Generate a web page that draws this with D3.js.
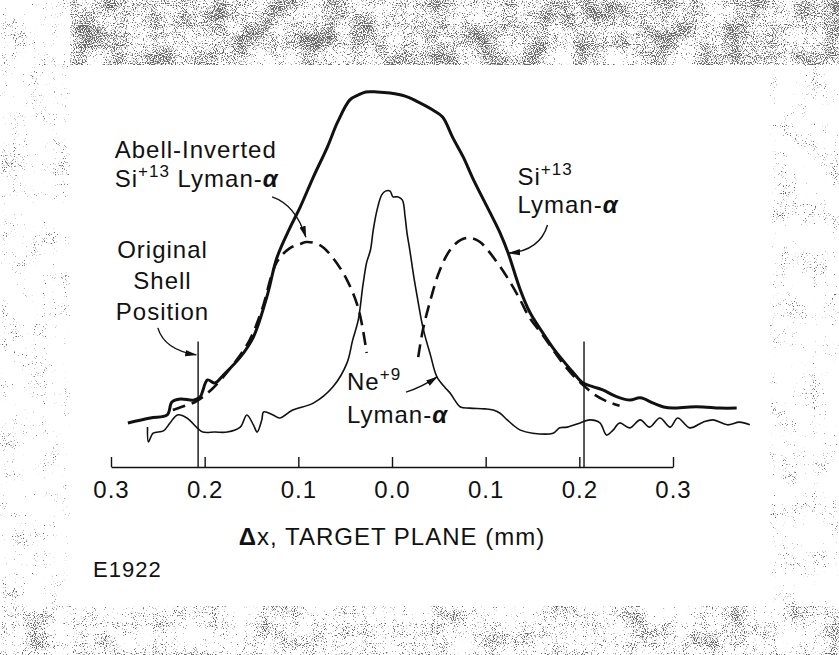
<!DOCTYPE html>
<html>
<head>
<meta charset="utf-8">
<script src="https://cdn.jsdelivr.net/npm/d3@7"></script>
<style>
  body { margin: 0; background: #fff; }
  svg text { font-family: "Liberation Sans", Arial, sans-serif; fill: #111; letter-spacing: 1px; }
</style>
</head>
<body>
<div id="chart"></div>
<script>
// x in mm along the target plane, y in arbitrary intensity units (0-100)
var tickValues = [-0.3, -0.2, -0.1, 0.0, 0.1, 0.2, 0.3];
var tickLabels = ["0.3", "0.2", "0.1", "0.0", "0.1", "0.2", "0.3"];
var shellPos = [-0.207, 0.205];
var shellTop = 33;

// Si+13 Lyman-alpha (thick)
var siX = [-0.282, -0.258, -0.240, -0.235, -0.226, -0.212, -0.205, -0.197, -0.189, -0.180, -0.162, -0.148, -0.133, -0.123, -0.109, -0.098, -0.084, -0.069, -0.058, -0.045, -0.036, -0.028, -0.016, -0.002, 0.014, 0.026, 0.044, 0.054, 0.065, 0.076, 0.086, 0.105, 0.115, 0.124, 0.137, 0.147, 0.161, 0.172, 0.182, 0.193, 0.204, 0.215, 0.225, 0.238, 0.254, 0.265, 0.279, 0.290, 0.300, 0.318, 0.332, 0.350, 0.368];
var siY = [11.6, 12.9, 13.7, 17.1, 17.9, 17.6, 18.4, 22.9, 22.1, 24.2, 28.9, 34.2, 45.3, 55.0, 62.9, 68.4, 76.3, 84.2, 90.8, 96.6, 97.9, 98.7, 98.7, 98.4, 97.6, 96.3, 93.9, 92.1, 86.6, 81.6, 76.1, 66.8, 61.8, 56.3, 46.6, 40.8, 35.3, 31.3, 28.2, 25.0, 22.1, 21.1, 20.3, 18.7, 17.6, 18.2, 16.8, 15.8, 15.5, 15.8, 15.8, 15.5, 15.5];

// Abell-inverted Si+13 Lyman-alpha (dashed), two lobes
var abellLeftX = [-0.234, -0.221, -0.208, -0.191, -0.170, -0.152, -0.139, -0.123, -0.109, -0.098, -0.091, -0.077, -0.063, -0.048, -0.037, -0.032, -0.027];
var abellLeftY = [15.0, 16.1, 17.4, 20.8, 26.8, 33.4, 41.3, 53.9, 57.6, 58.7, 59.2, 58.4, 55.0, 49.2, 42.6, 37.4, 30.0];
var abellRightX = [0.028, 0.033, 0.041, 0.051, 0.062, 0.073, 0.083, 0.094, 0.112, 0.126, 0.137, 0.147, 0.161, 0.172, 0.182, 0.193, 0.204, 0.217, 0.231, 0.243];
var abellRightY = [28.9, 36.1, 43.9, 51.8, 57.1, 59.7, 60.3, 59.2, 53.9, 48.7, 43.9, 39.2, 34.7, 30.8, 27.4, 24.2, 21.6, 18.9, 17.1, 16.1];

// Ne+9 Lyman-alpha (thin)
var neX = [-0.261, -0.260, -0.255, -0.244, -0.237, -0.229, -0.219, -0.208, -0.202, -0.189, -0.176, -0.162, -0.155, -0.148, -0.144, -0.139, -0.137, -0.127, -0.120, -0.106, -0.084, -0.063, -0.048, -0.042, -0.036, -0.031, -0.027, -0.023, -0.020, -0.016, -0.011, -0.007, -0.002, 0.001, 0.006, 0.011, 0.014, 0.016, 0.019, 0.023, 0.027, 0.032, 0.035, 0.041, 0.048, 0.057, 0.062, 0.067, 0.073, 0.083, 0.099, 0.108, 0.115, 0.123, 0.129, 0.137, 0.150, 0.172, 0.179, 0.187, 0.201, 0.211, 0.222, 0.229, 0.236, 0.243, 0.254, 0.265, 0.275, 0.286, 0.297, 0.305, 0.318, 0.332, 0.343, 0.358, 0.371, 0.382];
var neY = [10.5, 6.6, 8.9, 9.5, 11.6, 13.7, 12.9, 10.3, 9.2, 9.2, 9.2, 10.5, 13.7, 11.1, 9.2, 12.4, 14.5, 13.7, 12.9, 15.0, 16.8, 21.1, 27.4, 33.4, 38.7, 47.9, 53.9, 57.1, 62.4, 67.6, 71.6, 72.6, 72.6, 71.1, 71.1, 70.3, 65.8, 61.6, 57.1, 50.5, 44.7, 37.9, 34.7, 29.5, 23.7, 20.8, 19.5, 17.6, 15.8, 15.5, 15.3, 15.0, 14.2, 12.4, 11.1, 9.7, 8.9, 8.9, 10.3, 10.5, 11.6, 12.4, 11.6, 8.4, 9.7, 11.6, 10.3, 12.4, 10.5, 12.9, 10.5, 12.9, 10.3, 11.8, 12.4, 11.1, 11.8, 11.1];

// annotation arrows: [startX, startY, ctrlX, ctrlY, endX, endY] in data units
var arrows = [
  [-0.128, 71.1, -0.103, 69.0, -0.092, 60.5],
  [-0.250, 36.6, -0.243, 30.8, -0.209, 29.5],
  [0.015, 19.7, 0.032, 21.0, 0.048, 23.7],
  [0.166, 63.7, 0.158, 57.0, 0.125, 56.3]
];

var width = 839, height = 655;

var x = d3.scaleLinear().domain([-0.3, 0.3]).range([111, 673]);
var y = d3.scaleLinear().domain([0, 100]).range([467, 87]);

var svg = d3.select("#chart").append("svg")
    .attr("width", width)
    .attr("height", height);

var defs = svg.append("defs");

// speckled scan border
function grain(id, k, b) {
  var f = defs.append("filter").attr("id", id)
      .attr("x", 0).attr("y", 0).attr("width", 1).attr("height", 1)
      .attr("color-interpolation-filters", "sRGB");
  f.append("feTurbulence").attr("type", "fractalNoise")
      .attr("baseFrequency", 0.9).attr("numOctaves", 1).attr("seed", 7).attr("result", "fine");
  f.append("feColorMatrix").attr("in", "fine").attr("type", "matrix")
      .attr("values", "1 0 0 0 0  0 1 0 0 0  0 0 1 0 0  0 0 0 0 1").attr("result", "fineO");
  f.append("feTurbulence").attr("type", "fractalNoise")
      .attr("baseFrequency", 0.04).attr("numOctaves", 2).attr("seed", 3).attr("result", "coarse");
  f.append("feColorMatrix").attr("in", "coarse").attr("type", "matrix")
      .attr("values", "1 0 0 0 0  0 1 0 0 0  0 0 1 0 0  0 0 0 0 1").attr("result", "coarseO");
  f.append("feComposite").attr("in", "fineO").attr("in2", "coarseO")
      .attr("operator", "arithmetic").attr("k2", 0.7).attr("k3", 0.3).attr("result", "mix");
  f.append("feColorMatrix").attr("in", "mix").attr("type", "matrix")
      .attr("values", "0 0 0 0 0.4  0 0 0 0 0.4  0 0 0 0 0.4  " + k + " 0 0 0 " + b);
}
grain("gDense", 12, -6.2);
grain("gMid", 12, -6.8);
grain("gSparse", 12, -7.6);

svg.append("rect").attr("width", width).attr("height", height).attr("fill", "#fff");
svg.append("rect").attr("x", 70).attr("y", 0).attr("width", width - 70).attr("height", 65).attr("filter", "url(#gDense)");
svg.append("rect").attr("x", 0).attr("y", 0).attr("width", 70).attr("height", 606).attr("filter", "url(#gSparse)");
svg.append("rect").attr("x", 770).attr("y", 65).attr("width", 69).attr("height", 541).attr("filter", "url(#gSparse)");
svg.append("rect").attr("x", 0).attr("y", 606).attr("width", width).attr("height", 49).attr("filter", "url(#gMid)");

defs.append("marker")
    .attr("id", "head")
    .attr("markerUnits", "userSpaceOnUse")
    .attr("viewBox", "0 0 12 8")
    .attr("refX", 11).attr("refY", 4)
    .attr("markerWidth", 12).attr("markerHeight", 8)
    .attr("orient", "auto")
  .append("path")
    .attr("d", "M0,0.8 L12,4 L0,7.2 Z")
    .attr("fill", "#111");

// axis
var axis = d3.axisBottom(x)
    .tickValues(tickValues)
    .tickFormat(function (d, i) { return tickLabels[i]; })
    .tickSize(-10)
    .tickSizeOuter(0)
    .tickPadding(14);

var gx = svg.append("g")
    .attr("transform", "translate(0," + y(0) + ")")
    .call(axis);
gx.select(".domain").attr("stroke", "#111").attr("stroke-width", 1.6);
gx.selectAll(".tick line").attr("stroke", "#111").attr("stroke-width", 1.4);
gx.selectAll(".tick text")
    .attr("font-family", "Liberation Sans, Arial, sans-serif")
    .attr("font-size", 24)
    .attr("fill", "#111");

// original shell position markers
svg.selectAll(".shell")
    .data(shellPos)
  .enter().append("line")
    .attr("class", "shell")
    .attr("x1", function (d) { return x(d); })
    .attr("x2", function (d) { return x(d); })
    .attr("y1", y(shellTop))
    .attr("y2", y(0))
    .attr("stroke", "#111")
    .attr("stroke-width", 1.4);

var line = d3.line()
    .x(function (d) { return x(d[0]); })
    .y(function (d) { return y(d[1]); })
    .curve(d3.curveCatmullRom.alpha(0.5));

function pairs(xs, ys) {
  return xs.map(function (v, i) { return [v, ys[i]]; });
}

svg.append("path")
    .datum(pairs(neX, neY))
    .attr("d", line)
    .attr("fill", "none")
    .attr("stroke", "#111")
    .attr("stroke-width", 1.6);

svg.selectAll(".abell")
    .data([pairs(abellLeftX, abellLeftY), pairs(abellRightX, abellRightY)])
  .enter().append("path")
    .attr("class", "abell")
    .attr("d", line)
    .attr("fill", "none")
    .attr("stroke", "#111")
    .attr("stroke-width", 2.6)
    .attr("stroke-dasharray", "13,7");

svg.append("path")
    .datum(pairs(siX, siY))
    .attr("d", line)
    .attr("fill", "none")
    .attr("stroke", "#111")
    .attr("stroke-width", 3)
    .attr("stroke-linejoin", "round");

// arrows
svg.selectAll(".arrow")
    .data(arrows)
  .enter().append("path")
    .attr("class", "arrow")
    .attr("d", function (a) {
      return "M" + x(a[0]) + "," + y(a[1]) +
        " Q" + x(a[2]) + "," + y(a[3]) + " " + x(a[4]) + "," + y(a[5]);
    })
    .attr("fill", "none")
    .attr("stroke", "#111")
    .attr("stroke-width", 1.4)
    .attr("marker-end", "url(#head)");

// labels
function label(tx, ty, anchor) {
  return svg.append("text")
      .attr("x", x(tx))
      .attr("y", y(ty))
      .attr("font-size", 24)
      .attr("text-anchor", anchor || "start");
}
function lyman(t) {
  t.append("tspan").text("Lyman-");
  t.append("tspan").attr("font-weight", "bold").attr("font-style", "italic").text("α");
}

label(-0.296, 81.3).text("Abell-Inverted");
var t1 = label(-0.296, 73.7);
t1.append("tspan").text("Si");
t1.append("tspan").attr("font-size", 17).attr("dy", -10).text("+13");
t1.append("tspan").attr("dy", 10).text(" ");
lyman(t1);

label(-0.245, 55.0, "middle").text("Original");
label(-0.245, 46.8, "middle").text("Shell");
label(-0.245, 38.7, "middle").text("Position");

var t2 = label(0.134, 74.2);
t2.append("tspan").text("Si");
t2.append("tspan").attr("font-size", 17).attr("dy", -10).text("+13");
lyman(label(0.134, 66.8));

var t3 = label(-0.048, 20.3);
t3.append("tspan").text("Ne");
t3.append("tspan").attr("font-size", 17).attr("dy", -10).text("+9");
lyman(label(-0.048, 11.6));

var title = svg.append("text")
    .attr("x", x(0))
    .attr("y", y(0) + 78)
    .attr("font-size", 24)
    .attr("text-anchor", "middle");
title.append("tspan").attr("font-weight", "bold").text("Δ");
title.append("tspan").text("x, TARGET PLANE (mm)");

svg.append("text")
    .attr("x", 93)
    .attr("y", y(0) + 110)
    .attr("font-size", 22)
    .text("E1922");
</script>
</body>
</html>
